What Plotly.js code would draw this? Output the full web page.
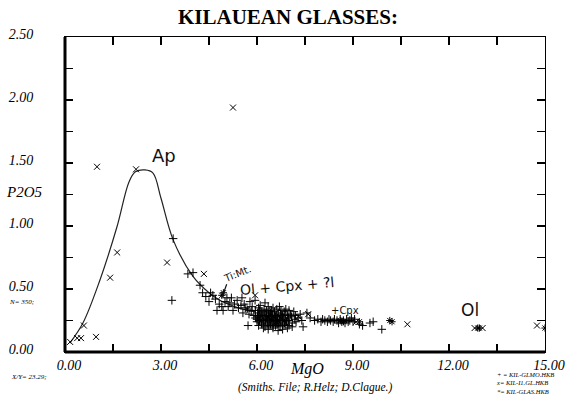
<!DOCTYPE html>
<html>
<head>
<meta charset="utf-8">
<script src="https://cdn.plot.ly/plotly-3.0.1.min.js"></script>
<style>html,body{margin:0;padding:0;background:#fff;}#chart{width:570px;height:398px;}</style>
</head>
<body>
<div id="chart"></div>
<script>
// Hand-drawn apatite saturation curve
const curveX = [0.15, 0.56, 1.09, 1.62, 2.0, 2.2, 2.5, 2.75, 3.0, 3.38, 4.0, 4.5, 4.84, 5.3, 5.69, 5.94];
const curveY = [0.07, 0.23, 0.57, 0.99, 1.35, 1.43, 1.445, 1.42, 1.22, 0.89, 0.60, 0.47, 0.41, 0.36, 0.33, 0.32];

// Series "+" = KIL-GLMO.HKB
const glmoX = [3.38,3.34,3.84,4.0,
 4.22,4.3,4.4,4.5,4.55,4.62,4.7,4.75,4.82,4.9,4.94,5.0,5.06,5.1,5.15,5.2,5.25,5.3,5.38,5.42,5.5,5.53,5.56,5.6,5.65,5.72,5.75,5.78,5.82,5.85,5.9,5.94,5.95,6.0,6.02,6.05,
 6.1,6.25,6.35,6.5,6.7,6.9,
 6.08,6.15,6.22,6.3,6.38,6.45,6.55,6.62,6.75,6.85,7.0,7.15,
 6.05,6.12,6.18,6.25,6.3,6.36,6.42,6.48,6.55,6.6,6.68,6.74,6.8,6.88,6.95,7.05,7.2,7.35,
 5.95,6.02,6.1,6.16,6.22,6.28,6.33,6.4,6.46,6.52,6.58,6.64,6.7,6.76,6.82,6.9,6.98,7.08,7.18,7.28,
 6.0,6.08,6.14,6.2,6.26,6.32,6.38,6.44,6.5,6.56,6.62,6.68,6.74,6.8,6.86,6.92,7.0,7.1,7.22,
 6.05,6.15,6.25,6.35,6.42,6.5,6.58,6.65,6.72,6.8,6.9,7.0,7.1,
 6.2,6.35,6.5,6.66,6.8,6.95,
 7.44,7.56,7.66,7.4,
 7.8,7.9,8.0,8.05,8.12,8.2,8.25,8.3,8.38,8.42,8.5,8.55,8.6,8.65,8.7,8.75,8.8,8.85,8.9,8.95,9.0,9.05,9.2,9.3,
 9.53,9.63,9.9];
const glmoY = [0.90,0.41,0.62,0.63,
 0.53,0.47,0.44,0.40,0.47,0.45,0.42,0.33,0.38,0.36,0.33,0.40,0.43,0.36,0.39,0.43,0.33,0.38,0.41,0.35,0.37,0.43,0.31,0.38,0.35,0.21,0.30,0.40,0.33,0.36,0.29,0.41,0.33,0.26,0.31,0.35,
 0.37,0.39,0.36,0.35,0.36,0.34,
 0.33,0.32,0.34,0.33,0.32,0.33,0.32,0.34,0.33,0.32,0.33,0.32,
 0.29,0.30,0.29,0.31,0.29,0.30,0.31,0.29,0.30,0.29,0.31,0.30,0.29,0.30,0.29,0.30,0.29,0.30,
 0.27,0.28,0.27,0.26,0.28,0.27,0.26,0.28,0.27,0.26,0.28,0.27,0.26,0.28,0.27,0.26,0.27,0.28,0.26,0.27,
 0.24,0.25,0.23,0.24,0.25,0.23,0.24,0.25,0.23,0.24,0.25,0.23,0.24,0.25,0.23,0.24,0.25,0.23,0.24,
 0.21,0.22,0.20,0.21,0.22,0.20,0.21,0.22,0.20,0.21,0.22,0.21,0.20,
 0.19,0.18,0.19,0.17,0.18,0.19,
 0.20,0.31,0.27,0.25,
 0.25,0.26,0.24,0.26,0.25,0.24,0.26,0.25,0.24,0.26,0.25,0.23,0.26,0.24,0.25,0.23,0.26,0.24,0.25,0.27,0.24,0.26,0.22,0.21,
 0.23,0.24,0.18];

// Series "x" = KIL-I1.GL.HKB
const i1glX = [0.16,0.38,0.5,0.97,0.59,1.41,1.63,1.0,2.22,3.19,4.34,5.25,5.94,7.3,7.6,9.1,10.7,12.8,13.05,14.75];
const i1glY = [0.08,0.11,0.11,0.12,0.21,0.59,0.79,1.47,1.45,0.71,0.62,1.94,0.45,0.28,0.30,0.24,0.22,0.19,0.19,0.21];

// Series "*" = KIL-GLAS.HKB
const glasX = [4.9,4.95,5.7,6.4,6.6,8.6,8.7,9.2,10.15,10.22,12.9,12.95,15.0];
const glasY = [0.45,0.47,0.34,0.26,0.24,0.25,0.24,0.24,0.25,0.24,0.19,0.19,0.19];

// Axis ticks
const xTickVals = [0,1.5,3,4.5,6,7.5,9,10.5,12,13.5,15];
const xTickText = ['0.00','','3.00','','6.00','','9.00','','12.00','','15.00'];
const yTickVals = [0,0.25,0.5,0.75,1,1.25,1.5,1.75,2,2.25,2.5];
const yTickText = ['0.00','','0.50','','1.00','','1.50','','2.00','','2.50'];

const legendLines = ['+ = KIL-GLMO.HKB', 'x= KIL-I1.GL.HKB', '*= KIL-GLAS.HKB'];

const serif = 'Liberation Serif, Times New Roman, serif';
const hand = 'DejaVu Sans, sans-serif';

const traces = [
  {x: curveX, y: curveY, mode: 'lines', line: {color: '#222', width: 1.2, shape: 'spline', smoothing: 1}, name: 'Ap', hoverinfo: 'skip'},
  {x: glmoX, y: glmoY, mode: 'markers', name: 'KIL-GLMO.HKB',
   marker: {symbol: 'cross-thin-open', size: 6, color: '#000', line: {color: '#000', width: 1}}},
  {x: i1glX, y: i1glY, mode: 'markers', name: 'KIL-I1.GL.HKB',
   marker: {symbol: 'x-thin-open', size: 6, color: '#000', line: {color: '#000', width: 1}}},
  {x: glasX, y: glasY, mode: 'markers', name: 'KIL-GLAS.HKB',
   marker: {symbol: 'asterisk-open', size: 6, color: '#000', line: {color: '#000', width: 1}}}
];

const annotations = [
  {text: 'MgO', x: 307, y: 369},
  {text: '(Smiths. File; R.Helz; D.Clague.)', x: 315, y: 387},
  {text: 'P2O5', x: 24, y: 192},
  {text: 'N= 350;', x: 21, y: 302},
  {text: 'X/Y= 23.29;', x: 29, y: 377}
].map((a, i) => ({
  text: a.text, showarrow: false, xref: 'paper', yref: 'paper',
  x: (a.x - 65) / 480, y: (352 - a.y) / 315, xanchor: 'center', yanchor: 'middle',
  font: {family: serif, style: 'italic', color: '#000',
         size: [16, 11.5, 15, 7, 7][i]}
}));

annotations.push({text: legendLines.join('<br>'), showarrow: false, xref: 'paper', yref: 'paper',
  x: (494 - 65) / 480, y: (352 - 383) / 315, xanchor: 'left', yanchor: 'middle', align: 'left',
  font: {family: serif, style: 'italic', size: 6.5, color: '#000'}});

// Handwritten labels on the plot
annotations.push(
  {text: 'Ap', x: 3.1, y: 1.56, showarrow: false, font: {family: hand, size: 18, color: '#111'}},
  {text: 'Ti:Mt.', x: 5.4, y: 0.62, showarrow: false, textangle: -22, font: {family: hand, size: 10, color: '#111'}},
  {text: 'Ol + Cpx + ?l', x: 6.95, y: 0.52, showarrow: false, textangle: -5, font: {family: hand, size: 14, color: '#111'}},
  {text: '+Cpx', x: 8.75, y: 0.33, showarrow: false, font: {family: hand, size: 10, color: '#111'}},
  {text: 'Ol', x: 12.65, y: 0.33, showarrow: false, font: {family: hand, size: 17, color: '#111'}},
  {text: '', x: 4.9, y: 0.43, ax: 5.07, ay: 0.55, axref: 'x', ayref: 'y', showarrow: true, arrowhead: 0, arrowwidth: 1.2, arrowcolor: '#111'}
);

const layout = {
  width: 570, height: 398,
  margin: {l: 65, r: 25, t: 37, b: 46},
  paper_bgcolor: '#fff', plot_bgcolor: '#fff',
  showlegend: false,
  title: {text: '<b>KILAUEAN GLASSES:</b>', x: 288 / 570, xanchor: 'center', xref: 'container',
          y: 1 - 17 / 398, yanchor: 'middle', yref: 'container',
          font: {family: serif, size: 21, color: '#000'}},
  xaxis: {range: [0, 15], tickvals: xTickVals, ticktext: xTickText,
          ticks: 'inside', ticklen: 8, tickwidth: 1.3, tickcolor: '#000',
          showline: true, linecolor: '#000', linewidth: 1, mirror: 'ticks',
          showgrid: false, zeroline: false, ticklabelshift: 4,
          tickfont: {family: serif, style: 'italic', size: 14, color: '#000'}},
  yaxis: {range: [0, 2.5], tickvals: yTickVals, ticktext: yTickText,
          ticks: 'inside', ticklen: 8, tickwidth: 1.3, tickcolor: '#000',
          showline: true, linecolor: '#000', linewidth: 1, mirror: 'ticks',
          showgrid: false, zeroline: false, ticklabelstandoff: 28, ticklabelshift: -3,
          tickfont: {family: serif, style: 'italic', size: 14, color: '#000'}},
  shapes: [
    {type: 'line', xref: 'paper', yref: 'paper', x0: 0, x1: 0, y0: 0, y1: 1, line: {color: '#000', width: 3}},
    {type: 'line', xref: 'paper', yref: 'paper', x0: 0, x1: 1, y0: 0, y1: 0, line: {color: '#000', width: 3}}
  ],
  annotations: annotations
};

Plotly.newPlot('chart', traces, layout, {staticPlot: true, displayModeBar: false});
</script>
</body>
</html>
